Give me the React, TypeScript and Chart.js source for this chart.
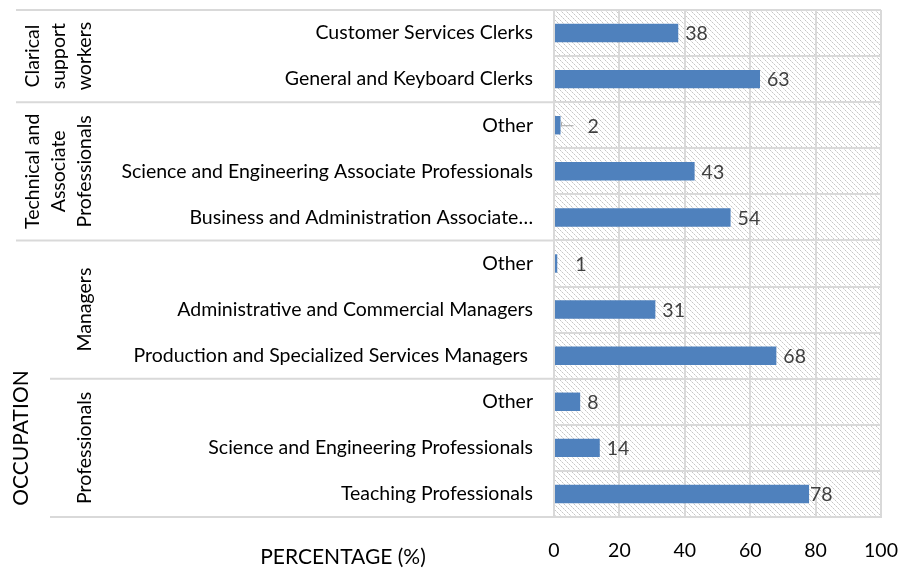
import React, { useEffect, useRef } from "react";
import { Chart, registerables } from "chart.js";

Chart.register(...registerables);

const categories = [
  "Customer Services Clerks",
  "General and Keyboard Clerks",
  "Other",
  "Science and Engineering Associate Professionals",
  "Business and Administration Associate…",
  "Other",
  "Administrative and Commercial Managers",
  "Production and Specialized Services Managers ",
  "Other",
  "Science and Engineering Professionals",
  "Teaching Professionals",
];
const values = [38, 63, 2, 43, 54, 1, 31, 68, 8, 14, 78];
const groupNames = [
  ["Clarical", "support", "workers"],
  ["Technical and", "Associate", "Professionals"],
  ["Managers"],
  ["Professionals"],
];
const groupSizes = [2, 3, 3, 3];
const xMin = 0;
const xMax = 100;
const xStep = 20;
const xTitle = "PERCENTAGE (%)";
const yTitle = "OCCUPATION";

const FONT = "Lato, 'Open Sans', sans-serif";
const FS = 19.5;
const TFS = 21;
const BAR = "#4F81BD";
const GRID = "#d9d9d9";

// label nudges (style only): extra gap & leader lines for tiny bars
const labelGap = (i: number) => {
  if (i === 2) return 27;
  if (i === 5) return 18;
  if (i === 10) return 1;
  return 7;
};

function makePattern(ctx: CanvasRenderingContext2D) {
  const c = document.createElement("canvas");
  const p = 10;
  c.width = p;
  c.height = p;
  const g = c.getContext("2d")!;
  g.fillStyle = "#ffffff";
  g.fillRect(0, 0, p, p);
  for (let i = 0; i < p; i++) {
    g.fillStyle = i % 2 === 0 ? "#c6c6c6" : "#e2e2e2";
    g.fillRect(i, i, 1, 1);
    g.fillRect((i + 5) % p, i, 1, 1);
  }
  return ctx.createPattern(c, "repeat")!;
}

const decor = {
  id: "decor",
  beforeDraw(chart: any) {
    const { ctx, chartArea: a } = chart;
    ctx.save();
    ctx.fillStyle = "#ffffff";
    ctx.fillRect(0, 0, chart.width, chart.height);
    ctx.fillStyle = makePattern(ctx);
    ctx.fillRect(a.left, a.top, a.right - a.left, a.bottom - a.top);
    ctx.restore();
  },
  afterDatasetsDraw(chart: any) {
    const { ctx } = chart;
    const meta = chart.getDatasetMeta(0);
    ctx.save();
    ctx.font = `${FS}px ${FONT}`;
    ctx.fillStyle = "#404040";
    ctx.textAlign = "left";
    ctx.textBaseline = "middle";
    meta.data.forEach((bar: any, i: number) => {
      const gap = labelGap(i);
      const x = bar.x + gap;
      if (i === 2) {
        ctx.save();
        ctx.strokeStyle = "#a6a6a6";
        ctx.lineWidth = 1;
        ctx.beginPath();
        ctx.moveTo(bar.x + 1, bar.y - 3);
        ctx.lineTo(bar.x + 1, bar.y + 0.5);
        ctx.lineTo(bar.x + 13, bar.y + 0.5);
        ctx.stroke();
        ctx.restore();
      }
      ctx.fillText(String(values[i]), x, bar.y + 1);
    });
    ctx.restore();
  },
  afterDraw(chart: any) {
    const { ctx, chartArea: a } = chart;
    const y = chart.scales.y;
    ctx.save();
    const bounds: number[] = [a.top];
    let idx = 0;
    groupSizes.forEach((n) => {
      idx += n;
      if (idx < categories.length) {
        bounds.push((y.getPixelForValue(idx - 1) + y.getPixelForValue(idx)) / 2);
      } else {
        bounds.push(a.bottom);
      }
    });
    ctx.strokeStyle = GRID;
    ctx.lineWidth = 2;
    bounds.forEach((b, k) => {
      const x0 = k >= 3 ? 50 : 16;
      ctx.beginPath();
      ctx.moveTo(x0, b);
      ctx.lineTo(a.left, b);
      ctx.stroke();
    });
    ctx.fillStyle = "#000000";
    ctx.font = `${FS}px ${FONT}`;
    ctx.textAlign = "center";
    ctx.textBaseline = "middle";
    groupNames.forEach((lines, g) => {
      const cy = (bounds[g] + bounds[g + 1]) / 2;
      lines.forEach((t, k) => {
        const cx = 85 - (lines.length - 1 - k) * 26;
        ctx.save();
        ctx.translate(cx, cy);
        ctx.rotate(-Math.PI / 2);
        ctx.fillText(t, 0, 0);
        ctx.restore();
      });
    });
    ctx.font = `${TFS}px ${FONT}`;
    ctx.save();
    ctx.translate(21, 438);
    ctx.rotate(-Math.PI / 2);
    ctx.fillText(yTitle, 0, 0);
    ctx.restore();
    ctx.fillText(xTitle, 343, 557);
    ctx.restore();
  },
};

export default function App() {
  const ref = useRef<HTMLCanvasElement | null>(null);
  useEffect(() => {
    if (!ref.current) return;
    const chart = new Chart(ref.current, {
      type: "bar",
      data: {
        labels: categories,
        datasets: [
          {
            data: values,
            backgroundColor: BAR,
            borderWidth: 0,
            barPercentage: 0.4,
            categoryPercentage: 1,
          },
        ],
      },
      options: {
        indexAxis: "y",
        responsive: false,
        animation: false,
        devicePixelRatio: 1,
        layout: { padding: { top: 10, right: 22, left: 0, bottom: 0 } },
        plugins: {
          legend: { display: false },
          tooltip: { enabled: false },
          title: { display: false },
        },
        scales: {
          x: {
            min: xMin,
            max: xMax,
            ticks: {
              stepSize: xStep,
              color: "#000000",
              font: { family: FONT, size: FS },
              padding: 22,
            },
            grid: { color: GRID, lineWidth: 2, drawTicks: false },
            border: { color: GRID, width: 2 },
            afterFit: (s: any) => {
              s.height = 52;
              s.paddingLeft = 0;
              s.paddingRight = 0;
            },
          },
          y: {
            ticks: {
              color: "#000000",
              font: { family: FONT, size: FS },
              padding: 21,
              autoSkip: false,
            },
            grid: { color: GRID, lineWidth: 2, drawTicks: false, offset: true },
            border: { color: GRID, width: 2 },
            afterFit: (s: any) => {
              s.width = 554;
              s.paddingTop = 0;
              s.paddingBottom = 0;
            },
          },
        },
      },
      plugins: [decor],
    });
    return () => chart.destroy();
  }, []);
  return (
    <div style={{ position: "fixed", left: 0, top: 0, width: 903, height: 569 }}>
      <canvas ref={ref} width={903} height={569} />
    </div>
  );
}
